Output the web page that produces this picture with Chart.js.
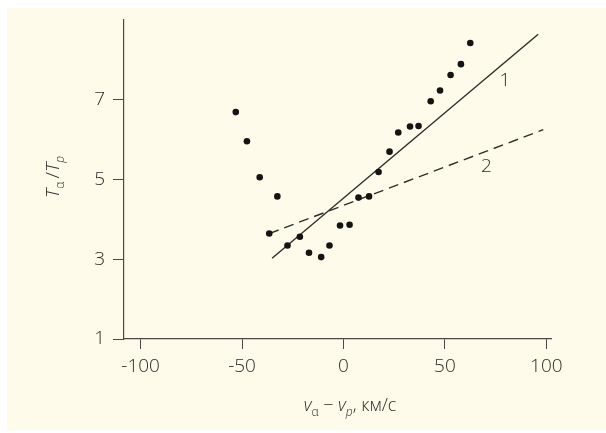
<!DOCTYPE html>
<html lang="ru">
<head>
    <meta charset="UTF-8">
    <title>Tα/Tp от vα − vp</title>
    <script src="https://cdn.jsdelivr.net/npm/chart.js"></script>
    <style>
        html, body { margin: 0; padding: 0; background: #ffffff; }
        #wrap { width: 606px; height: 433px; position: relative; }
    </style>
</head>
<body>
    <div id="wrap"><canvas id="chartCanvas" width="606" height="433"></canvas></div>
    <script>
        // Точки измерений: vα − vp (км/с) и Tα/Tp
        const pointsV = [-53.1, -47.6, -41.3, -32.6, -36.6, -27.6, -21.5, -17.0, -11.0, -6.9, -1.7, 3.0,
                         7.4, 12.6, 17.3, 22.7, 27.0, 32.8, 37.0, 43.0, 47.6, 52.8, 57.9, 62.5];
        const pointsT = [6.68, 5.95, 5.05, 4.57, 3.64, 3.34, 3.56, 3.16, 3.05, 3.34, 3.84, 3.86,
                         4.54, 4.57, 5.18, 5.69, 6.17, 6.32, 6.33, 6.95, 7.22, 7.61, 7.88, 8.41];

        // Прямая 1 (сплошная) и прямая 2 (штриховая)
        const line1V = [-35.2, 96];
        const line1T = [3.02, 8.63];
        const line2V = [-36.6, 98.5];
        const line2T = [3.64, 6.24];

        // подписи кривых
        const curveLabels = ['1', '2'];
        const curveLabelV = [79.6, 70.5];
        const curveLabelT = [7.46, 5.31];

        const xTicks = [-100, -50, 0, 50, 100];
        const yTicks = [1, 3, 5, 7];

        const ink = '#2b2b2b';
        const fontFamily = '"Open Sans", "DejaVu Sans", sans-serif';

        function toXY(xs, ys) {
            return xs.map((x, i) => ({ x: x, y: ys[i] }));
        }

        // фон кремового цвета
        const bgPlugin = {
            id: 'bg',
            beforeDraw(chart) {
                const c = chart.ctx;
                c.save();
                c.fillStyle = '#fffbea';
                c.fillRect(7, 8, 599, 422);
                c.restore();
            }
        };

        // подписи осей с индексами и номера прямых
        const textPlugin = {
            id: 'texts',
            afterDraw(chart) {
                const c = chart.ctx;
                const xs = chart.scales.x;
                const ys = chart.scales.y;
                c.save();
                c.fillStyle = ink;

                // номера прямых
                c.font = '300 19px ' + fontFamily;
                c.textAlign = 'center';
                c.textBaseline = 'middle';
                curveLabels.forEach((t, i) => {
                    c.fillText(t, xs.getPixelForValue(curveLabelV[i]), ys.getPixelForValue(curveLabelT[i]));
                });
                c.textBaseline = 'alphabetic';
                c.textAlign = 'left';

                // подпись оси X: vα − vp, км/с
                const partsX = [
                    { t: 'v', f: 'italic 300 18px ', dy: 0 },
                    { t: 'α', f: '300 12px ', dy: 5 },
                    { t: ' − ', f: '300 18px ', dy: 0 },
                    { t: 'v', f: 'italic 300 18px ', dy: 0 },
                    { t: 'p', f: 'italic 300 12px ', dy: 5 },
                    { t: ', км/с', f: '300 18px ', dy: 0 }
                ];
                drawParts(c, partsX, 350, 411);

                // подпись оси Y: Tα/Tp (повёрнута)
                c.translate(59, 177);
                c.rotate(-Math.PI / 2);
                const partsY = [
                    { t: 'T', f: 'italic 300 19px ', dy: 0 },
                    { t: 'α', f: '300 12px ', dy: 5 },
                    { t: '\u2009/', f: '300 19px ', dy: 0 },
                    { t: 'T', f: 'italic 300 19px ', dy: 0 },
                    { t: 'p', f: 'italic 300 12px ', dy: 5 }
                ];
                drawParts(c, partsY, 0, 0);
                c.restore();
            }
        };

        function drawParts(c, parts, cx, baseY) {
            let total = 0;
            parts.forEach(p => {
                c.font = p.f + fontFamily;
                total += c.measureText(p.t).width;
            });
            let x = cx - total / 2;
            parts.forEach(p => {
                c.font = p.f + fontFamily;
                c.fillText(p.t, x, baseY + p.dy);
                x += c.measureText(p.t).width;
            });
        }

        const ctx = document.getElementById('chartCanvas').getContext('2d');
        new Chart(ctx, {
            type: 'scatter',
            data: {
                datasets: [
                    {
                        label: 'измерения',
                        data: toXY(pointsV, pointsT),
                        pointRadius: 3.3,
                        pointBackgroundColor: '#141414',
                        pointBorderWidth: 0,
                        showLine: false
                    },
                    {
                        label: '1',
                        data: toXY(line1V, line1T),
                        showLine: true,
                        borderColor: '#2e2e2e',
                        borderWidth: 1.4,
                        pointRadius: 0
                    },
                    {
                        label: '2',
                        data: toXY(line2V, line2T),
                        showLine: true,
                        borderColor: '#2e2e2e',
                        borderWidth: 1.4,
                        borderDash: [10, 6],
                        pointRadius: 0
                    }
                ]
            },
            options: {
                responsive: false,
                animation: false,
                layout: { padding: { top: 19, right: 55, left: 0, bottom: 0 } },
                plugins: {
                    legend: { display: false },
                    tooltip: { enabled: false }
                },
                scales: {
                    x: {
                        type: 'linear',
                        min: -108.2,
                        max: 102.3,
                        afterBuildTicks: axis => { axis.ticks = xTicks.map(v => ({ value: v })); },
                        afterFit: axis => { axis.height = 94; },
                        grid: { drawOnChartArea: false, drawTicks: true, tickLength: 10, color: '#4a4a4a', lineWidth: 1 },
                        border: { display: true, color: '#4a4a4a', width: 1.2 },
                        ticks: { color: ink, padding: 6, font: { family: fontFamily, size: 19, weight: 300 } }
                    },
                    y: {
                        type: 'linear',
                        min: 1,
                        max: 9,
                        afterBuildTicks: axis => { axis.ticks = yTicks.map(v => ({ value: v })); },
                        afterFit: axis => { axis.width = 124; },
                        grid: { drawOnChartArea: false, drawTicks: true, tickLength: 11, color: '#4a4a4a', lineWidth: 1 },
                        border: { display: true, color: '#4a4a4a', width: 1.2 },
                        ticks: { color: ink, padding: 8, font: { family: fontFamily, size: 19, weight: 300 } }
                    }
                }
            },
            plugins: [bgPlugin, textPlugin]
        });
    </script>
</body>
</html>
